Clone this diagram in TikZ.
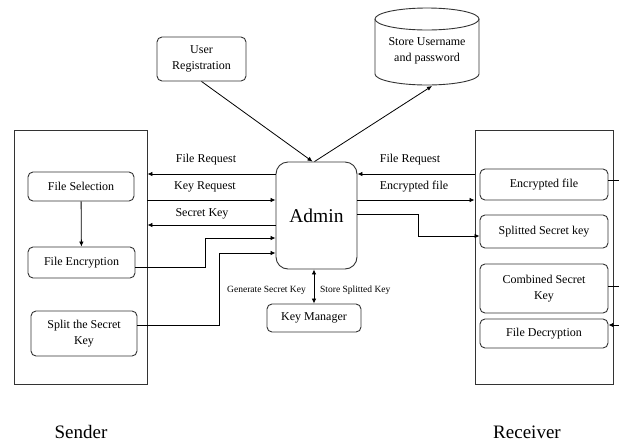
\documentclass[tikz,border=0pt]{standalone}
\usepackage{fontspec}
\setmainfont{Liberation Serif}
\usetikzlibrary{arrows.meta}
\begin{document}
\begin{tikzpicture}[x=1pt,y=-1pt,
  box/.style={draw=black!80, line width=0.9pt, rounded corners=5pt, inner sep=0pt, align=center,
    font=\fontsize{12}{16}\selectfont},
  panel/.style={draw=black!80, line width=0.9pt, inner sep=0pt},
  lbl/.style={inner sep=0pt, font=\fontsize{12}{14}\selectfont},
  small/.style={inner sep=0pt, font=\fontsize{9.5}{11}\selectfont},
  big/.style={inner sep=0pt, font=\fontsize{19}{22}\selectfont},
  arr/.style={line width=0.8pt, -{Latex[length=5pt,width=4.5pt]}},
  dbl/.style={line width=0.8pt, {Latex[length=5pt,width=4.5pt]}-{Latex[length=5pt,width=4.5pt]}},
  ln/.style={line width=0.8pt}]
\useasboundingbox (0,0) rectangle (619,445);
% panels
\node[panel, minimum width=133pt, minimum height=254pt] (sender) at (80.5,257) {};
\node[panel, minimum width=138pt, minimum height=254pt] (receiver) at (544,257) {};
% sender boxes
\node[box, minimum width=106pt, minimum height=29pt] (fsel) at (81,186.5) {File Selection};
\node[box, minimum width=107pt, minimum height=31pt] (fenc) at (81.5,262.5) {File Encryption};
\node[box, minimum width=106pt, minimum height=45pt] (split) at (84,333.5) {Split the Secret\\Key};
% admin
\node[box, rounded corners=12pt, minimum width=81pt, minimum height=107pt, font=\fontsize{19.5}{22}\selectfont] (admin) at (316.5,215.5) {Admin};
\node[box, minimum width=94pt, minimum height=28pt] (keym) at (314,318) {Key Manager};
% receiver boxes
\node[box, minimum width=128pt, minimum height=31pt] (encf) at (544,184.5) {Encrypted file};
\node[box, minimum width=128pt, minimum height=33pt] (spl) at (544,231.5) {Splitted Secret key};
\node[box, minimum width=128pt, minimum height=49pt] (comb) at (544,288.5) {Combined Secret\\Key};
\node[box, minimum width=128pt, minimum height=29pt] (fdec) at (544,333.5) {File Decryption};
% top
\node[box, minimum width=89pt, minimum height=44pt] (user) at (201.5,59) {User\\Registration};
\draw[draw=black!80, line width=0.9pt] (375pt,-19pt) -- (375pt,-74pt) arc(180:360:52pt and 11pt) -- (479pt,-19pt);
\draw[draw=black!80, line width=0.9pt] (427,19) ellipse (52pt and 11pt);
\node[inner sep=0pt, align=center, font=\fontsize{12}{16}\selectfont] (store) at (427,51) {Store Username\\and password};
\coordinate (cylb) at (432,86);
% helper coordinates
\coordinate (h174) at (0,174);
\coordinate (h200) at (0,200);
\coordinate (h225) at (0,225);
\coordinate (h238) at (0,238);
\coordinate (h253) at (0,253);
\coordinate (h267) at (0,267);
\coordinate (h325) at (0,325);
\coordinate (h214) at (0,214);
\coordinate (h236) at (0,236);
\coordinate (h180) at (0,180);
\coordinate (h286) at (0,286);
\coordinate (x205) at (205,0);
\coordinate (x219) at (219,0);
\coordinate (x418) at (418,0);
\coordinate (r1) at (619,180);
\coordinate (r2) at (619,286);
\coordinate (r3) at (619,325);
% connectors
\draw[arr] (fsel) -- (fenc);
\draw[arr] (user.south) -- ([xshift=-4pt]admin.north);
\draw[arr] ([xshift=-2pt]admin.north) -- (cylb);
\draw[arr] (admin.west |- h174) -- (sender.east |- h174);
\draw[arr] (sender.east |- h200) -- (admin.west |- h200);
\draw[arr] (admin.west |- h225) -- (sender.east |- h225);
\draw[arr] (fenc.east |- h267) -| (x205 |- h238) -- (admin.west |- h238);
\draw[arr] (split.east |- h325) -| (x219 |- h253) -- (admin.west |- h253);
\draw[arr] (receiver.west |- h174) -- (admin.east |- h174);
\draw[arr] (admin.east |- h200) -- (receiver.west |- h200);
\draw[arr] (admin.east |- h214) -| (x418 |- h236) -- (spl.west |- h236);
\draw[dbl] (admin.south -| keym.north) -- (keym.north);
\draw[ln] (encf.east |- h180) -- (r1);
\draw[ln] (comb.east |- h286) -- (r2);
\draw[arr] (r3) -- (fdec.east |- h325);
% labels
\node[lbl] (l1) at (206,160) {File Request};
\node[lbl] (l2) at (205,187) {Key Request};
\node[lbl] (l3) at (202,214) {Secret Key};
\node[lbl] (l4) at (410,160) {File Request};
\node[lbl] (l5) at (414,187) {Encrypted file};
\node[small, anchor=east] (l6) at (306,290) {Generate Secret Key};
\node[small, anchor=west] (l7) at (320,290) {Store Splitted Key};
\node[big] (sl) at (81,432) {Sender};
\node[big] (rl) at (527,432) {Receiver};
\end{tikzpicture}
\end{document}
